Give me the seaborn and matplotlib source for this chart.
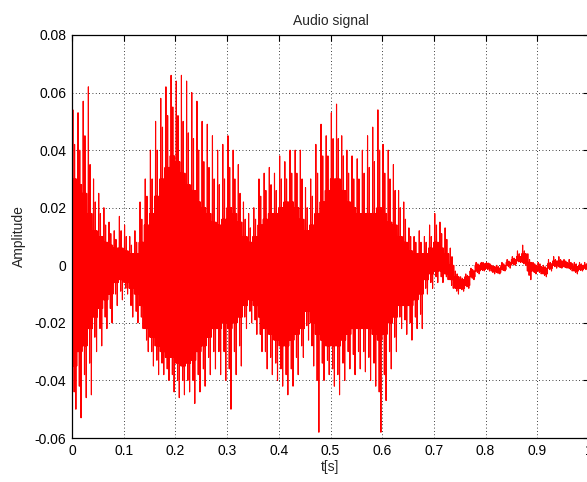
import numpy as np
import pandas as pd
import matplotlib
matplotlib.use("Agg")
import matplotlib.pyplot as plt
import seaborn as sns

# ---- data (amplitudes in units of 1e-3), one value per 10 ms ----
t_bins = [round(i * 0.01, 2) for i in range(101)]

peak_hi = [54, 53, 57, 62, 30, 25, 20, 15, 12, 17,
           14, 10, 12, 22, 30, 40, 50, 58, 62, 66,
           64, 66, 64, 60, 57, 50, 49, 45, 40, 42,
           45, 40, 35, 22, 18, 20, 30, 32, 34, 32,
           38, 36, 40, 40, 40, 27, 30, 42, 49, 45,
           53, 56, 45, 40, 38, 37, 40, 45, 48, 54,
           42, 40, 35, 26, 22, 13, 10, 12, 10, 14,
           18, 15, 13, 6, -2, -4, -3, -1, 1, 1,
           1, 0, 0, 1, 2, 3, 5, 7, 4, 1,
           1, 0, 2, 3, 3, 2, 2, 1, 1, 1, 1]

peak_lo = [-50, -53, -46, -45, -30, -28, -22, -20, -14, -12,
           -10, -18, -20, -22, -30, -35, -38, -38, -40, -44,
           -46, -45, -44, -48, -44, -42, -38, -36, -38, -40,
           -50, -38, -35, -22, -20, -24, -30, -36, -38, -40,
           -42, -45, -42, -38, -32, -26, -35, -58, -40, -38,
           -42, -45, -40, -36, -38, -36, -37, -40, -42, -58,
           -47, -36, -30, -22, -24, -26, -22, -22, -10, -8,
           -6, -6, -5, -8, -10, -9, -8, -5, -3, -2,
           -2, -3, -3, -2, -1, 0, 1, 0, -5, -3,
           -3, -4, -2, -1, -1, -1, -2, -3, -2, -2, -2]

mid_hi = [42, 40, 45, 35, 22, 18, 14, 11, 9, 12,
          10, 7, 8, 16, 24, 30, 40, 48, 52, 55,
          52, 50, 46, 44, 40, 36, 34, 30, 28, 30,
          34, 30, 25, 16, 13, 16, 24, 26, 28, 26,
          30, 30, 32, 32, 30, 20, 24, 32, 38, 38,
          44, 44, 38, 32, 30, 30, 32, 34, 36, 40,
          32, 30, 26, 20, 16, 10, 8, 8, 8, 10,
          14, 11, 9, 3, -3, -4.5, -3.5, -1.5, 0.5, 1,
          0.8, -0.2, -0.5, 0.5, 1.5, 2.5, 4, 5, 2, 0.5,
          0.5, -0.5, 1, 2, 2, 1.5, 1, 0.5, 0.5, 0.5, 0.5]

mid_lo = [-44, -42, -38, -34, -25, -22, -18, -15, -10, -9,
          -8, -14, -16, -18, -26, -30, -33, -34, -36, -38,
          -40, -40, -40, -40, -38, -36, -32, -30, -30, -30,
          -36, -30, -28, -18, -16, -19, -24, -30, -32, -34,
          -36, -38, -36, -32, -28, -21, -28, -40, -34, -33,
          -36, -38, -34, -30, -31, -30, -30, -32, -34, -44,
          -38, -30, -25, -18, -19, -20, -18, -17, -8, -6,
          -4, -4, -4, -7, -9, -8.5, -7.5, -4.5, -2.5, -1.8,
          -1.5, -2.5, -2.8, -1.8, -0.5, 0.2, 1.2, 0.5, -3.5, -2.5,
          -2.5, -3.5, -1.5, -0.5, -0.8, -0.8, -1.5, -2.5, -1.8, -1.5, -1.5]

core_hi = [30, 28, 25, 18, 12, 10, 8, 7, 6, 6,
           5, 4, 4, 8, 14, 18, 24, 30, 34, 38,
           36, 32, 28, 26, 22, 20, 18, 15, 14, 16,
           20, 18, 15, 10, 8, 10, 14, 16, 18, 18,
           20, 22, 22, 20, 16, 12, 14, 18, 22, 26,
           30, 30, 26, 22, 20, 18, 18, 18, 18, 20,
           18, 15, 14, 10, 8, 5, 4, 4, 4, 6,
           8, 6, 4, 0, -4, -5, -4, -2, 0, 0.5,
           0.5, -0.5, -1, 0, 1, 2, 3, 4, 1, 0,
           -0.5, -1, 0.5, 1.5, 1.5, 1, 0.5, -0.5, 0, 0, 0]

core_lo = [-35, -30, -28, -22, -18, -15, -12, -10, -6, -5,
           -6, -8, -10, -14, -22, -25, -28, -30, -32, -32,
           -34, -35, -34, -33, -30, -28, -25, -22, -22, -20,
           -22, -20, -18, -14, -12, -14, -18, -22, -24, -26,
           -28, -28, -26, -24, -22, -16, -20, -24, -26, -28,
           -28, -28, -26, -24, -22, -22, -22, -22, -24, -26,
           -24, -20, -18, -14, -14, -14, -12, -10, -5, -3,
           -2, -2, -3, -5, -8, -8, -7, -4, -2, -1.5,
           -1, -2, -2.5, -1.5, 0, 0.5, 1.5, 1, -2, -2,
           -2, -3, -1, 0, -0.5, -0.5, -1, -2, -1.5, -1, -1]

x_ticks = [0, 0.1, 0.2, 0.3, 0.4, 0.5, 0.6, 0.7, 0.8, 0.9, 1]
x_labels = ["0", "0.1", "0.2", "0.3", "0.4", "0.5", "0.6", "0.7", "0.8", "0.9", "1"]
y_ticks = [-0.06, -0.04, -0.02, 0, 0.02, 0.04, 0.06, 0.08]
y_labels = ["-0.06", "-0.04", "-0.02", "0", "0.02", "0.04", "0.06", "0.08"]

# ---- sample sequence: each 10 ms bin holds its read core band and its spikes ----
times, amps = [], []
for i, tb in enumerate(t_bins):
    seq = [core_hi[i], core_lo[i], peak_hi[i], core_lo[i], core_hi[i], mid_lo[i],
           mid_hi[i], core_lo[i], core_hi[i], peak_lo[i], core_hi[i], core_lo[i]]
    for k, v in enumerate(seq):
        times.append(tb + k * 0.01 / len(seq))
        amps.append(v * 1e-3)
df = pd.DataFrame({"t": times, "amp": amps})

# ---- plot ----
sns.set_style("white")
plt.rcParams["font.family"] = ["Liberation Sans", "DejaVu Sans"]

fig = plt.figure(figsize=(5.87, 4.82), dpi=100)
ax = fig.add_axes([72 / 587, 44 / 482, 517 / 587, 403 / 482])

sns.lineplot(data=df, x="t", y="amp", color="#ff0000", linewidth=0.8,
             estimator=None, sort=False, ax=ax)

ax.set_xlim(0, 1)
ax.set_ylim(-0.06, 0.08)
ax.set_xticks(x_ticks)
ax.set_xticklabels(x_labels)
ax.set_yticks(y_ticks)
ax.set_yticklabels(y_labels)

ax.set_axisbelow(True)
ax.grid(True, color="black", linestyle=(0, (1, 3)), linewidth=0.6)
for s in ax.spines.values():
    s.set_visible(True)
    s.set_color("black")
    s.set_linewidth(0.9)
ax.tick_params(direction="in", top=True, right=True, length=4, width=0.8,
               labelsize=10, colors="black", pad=4)

ax.set_title("Audio signal", fontsize=10, pad=7)
ax.set_xlabel("t[s]", fontsize=10, labelpad=2)
ax.set_ylabel("Amplitude", fontsize=10, labelpad=6)

fig.savefig("out.png", dpi=100)
